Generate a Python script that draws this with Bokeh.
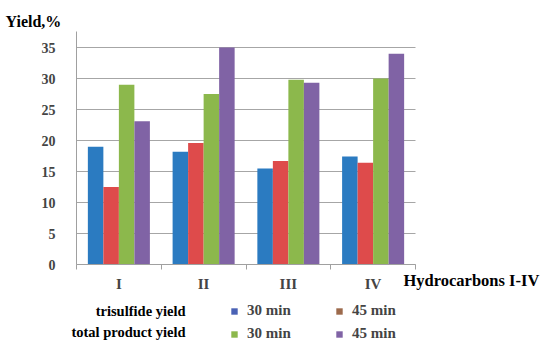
from bokeh.plotting import figure
from bokeh.models import (Range1d, FixedTicker, Label, Legend, LegendItem,
                          ColumnDataSource)
from bokeh.embed import file_html
from bokeh.resources import INLINE

categories = ["I", "II", "III", "IV"]
trisulfide_30 = [19.0, 18.2, 15.5, 17.4]
trisulfide_45 = [12.5, 19.6, 16.7, 16.4]
total_30 = [29.0, 27.5, 29.8, 30.0]
total_45 = [23.1, 35.0, 29.3, 34.0]
y_ticks = [0, 5, 10, 15, 20, 25, 30, 35]
legend_labels = ["30 min", "45 min", "30 min", "45 min"]

bar_colors = ["#2B7BC1", "#DE4B4B", "#8CB84C", "#8063A5"]
legend_colors = ["#4A62B5", "#9C6A4C", "#8CB84C", "#8063A5"]
FONT = "Liberation Serif"

W, H = 550, 345
X0PX, XUNIT = 76, 84.75      # pixel of x=0, pixels per category
Y0PX, YUNIT = 264, 6.2       # pixel of y=0, pixels per percent
Y_TOP = 37.6                 # top of the y axis line

p = figure(width=W, height=H, output_backend="svg", toolbar_location=None,
           x_range=Range1d(-X0PX / XUNIT, (W - X0PX) / XUNIT),
           y_range=Range1d(-(H - Y0PX) / YUNIT, Y0PX / YUNIT),
           min_border=0, min_border_left=0, min_border_right=0,
           min_border_top=0, min_border_bottom=0)
p.outline_line_color = None
p.background_fill_color = "white"
p.border_fill_color = "white"

n = len(categories)
# horizontal grid lines, only over the plotting area
p.segment(x0=[0] * len(y_ticks), x1=[n] * len(y_ticks), y0=y_ticks, y1=y_ticks,
          line_color="#A6A6A6", line_width=1)

bw = 0.183
centers = [i + 0.5 for i in range(n)]
series = [trisulfide_30, trisulfide_45, total_30, total_45]
for k, vals in enumerate(series):
    off = (k - 1.5) * bw
    src = ColumnDataSource(dict(x=[c + off for c in centers], top=vals))
    p.vbar(x="x", top="top", bottom=0, width=bw, source=src,
           fill_color=bar_colors[k], line_color=None)

p.xgrid.visible = False
p.ygrid.visible = False

# axes fixed at the data origin
p.yaxis.fixed_location = 0
p.yaxis.bounds = (0, Y_TOP)
p.yaxis.ticker = FixedTicker(ticks=y_ticks)
p.yaxis.major_tick_line_color = None
p.yaxis.minor_tick_line_color = None
p.yaxis.axis_line_color = "#A0A0A0"
p.yaxis.major_label_text_font = FONT
p.yaxis.major_label_text_font_style = "bold"
p.yaxis.major_label_text_font_size = "14px"
p.yaxis.major_label_standoff = 15

p.xaxis.fixed_location = 0
p.xaxis.bounds = (0, n)
p.xaxis.ticker = FixedTicker(ticks=centers, minor_ticks=list(range(n + 1)))
p.xaxis.major_label_overrides = {c: cat for c, cat in zip(centers, categories)}
p.xaxis.major_tick_line_color = None
p.xaxis.minor_tick_line_color = "#A0A0A0"
p.xaxis.minor_tick_out = 5
p.xaxis.minor_tick_in = 0
p.xaxis.axis_line_color = "#A0A0A0"
p.xaxis.major_label_text_font = FONT
p.xaxis.major_label_text_font_style = "bold"
p.xaxis.major_label_text_font_size = "15px"
p.xaxis.major_label_standoff = 5


def dx(px):
    return (px - X0PX) / XUNIT


def dy(py):
    return (Y0PX - py) / YUNIT


def lab(text, x, y, size, align="left"):
    p.add_layout(Label(x=x, y=y, text=text, text_font=FONT, text_font_style="bold",
                       text_font_size=size, text_align=align, text_baseline="middle",
                       text_color="black"))


lab("Yield,%", dx(5), dy(21), "16px")
lab("Hydrocarbons I-IV", dx(403), dy(280), "16.5px")
lab("trisulfide yield", dx(185), dy(310), "14.5px", "right")
lab("total product yield", dx(185), dy(331), "14.5px", "right")

# legend swatches: zero-height bars carrying only the legend colour
swatches = []
for k in range(4):
    src = ColumnDataSource(dict(x=[0], top=[0]))
    r = p.vbar(x="x", top="top", bottom=0, width=0.0, source=src,
               fill_color=legend_colors[k], line_color=None)
    swatches.append(r)
order = [0, 2, 1, 3]   # legend fills column by column
items = [LegendItem(label=legend_labels[k], renderers=[swatches[k]]) for k in order]
legend = Legend(items=items, ncols=2, location=(230, 3),
                glyph_width=8, glyph_height=8, label_standoff=9,
                label_width=82, label_height=15, spacing=6, padding=0, margin=0,
                border_line_color=None, background_fill_alpha=0,
                label_text_font=FONT, label_text_font_style="bold",
                label_text_font_size="15px")
p.add_layout(legend, "center")

open("out.html", "w").write(file_html(p, INLINE))
